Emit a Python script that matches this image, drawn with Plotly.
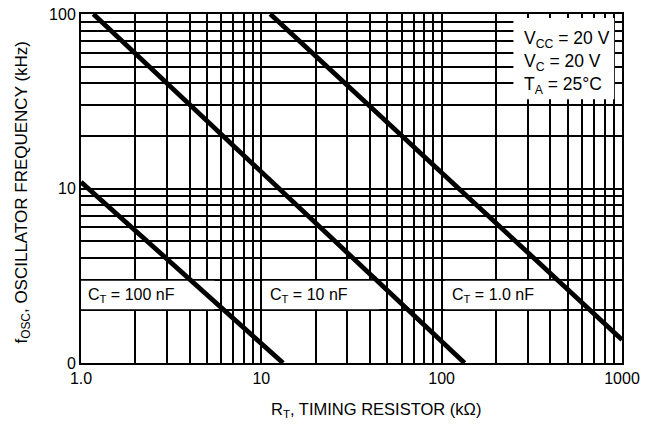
import math
import plotly.graph_objects as go

# ---- data ----
curve_labels = ["C<sub>T</sub> = 100 nF", "C<sub>T</sub> = 10 nF", "C<sub>T</sub> = 1.0 nF"]
rt_100nF = [1.0, 13.2]
f_100nF = [10.9, 1.0]
rt_10nF = [1.17, 134]
f_10nF = [100, 1.0]
rt_1nF = [11.2, 1000]
f_1nF = [100, 1.36]

x_tick_vals = [1, 2, 3, 4, 5, 6, 7, 8, 9, 10, 20, 30, 40, 50, 60, 70, 80, 90,
               100, 200, 300, 400, 500, 600, 700, 800, 900, 1000]
x_tick_text = ["1.0"] + [""] * 8 + ["10"] + [""] * 8 + ["100"] + [""] * 8 + ["1000"]
y_tick_vals = [1, 2, 3, 4, 5, 6, 7, 8, 9, 10, 20, 30, 40, 50, 60, 70, 80, 90, 100]
y_tick_text = ["0"] + [""] * 8 + ["10"] + [""] * 8 + ["100"]

cond_lines = ["V<sub>CC</sub> = 20 V", "V<sub>C</sub> = 20 V", "T<sub>A</sub> = 25°C"]

# label box extents (x range in kOhm, y range in kHz)
label_boxes_x = [(1.0, 5.5), (10.15, 45), (104, 470)]
label_box_y = (2.03, 2.96)
cond_box_x = (250, 905)
cond_box_y = (32.5, 95)

FONT = "Liberation Sans, Arial, Helvetica, sans-serif"

fig = go.Figure()


def white_box(xr, yr):
    fig.add_trace(go.Scatter(x=[xr[0], xr[1], xr[1], xr[0], xr[0]],
                             y=[yr[0], yr[0], yr[1], yr[1], yr[0]],
                             mode="lines", fill="toself", fillcolor="white",
                             line=dict(width=0, color="white"),
                             showlegend=False, hoverinfo="skip"))


for bx in label_boxes_x:
    white_box(bx, label_box_y)
white_box(cond_box_x, cond_box_y)

for xs, ys in [(rt_100nF, f_100nF), (rt_10nF, f_10nF), (rt_1nF, f_1nF)]:
    fig.add_trace(go.Scatter(x=xs, y=ys, mode="lines",
                             line=dict(color="black", width=4.8),
                             showlegend=False, hoverinfo="skip"))

L = math.log10
for (a, b), lab in zip(label_boxes_x, curve_labels):
    fig.add_annotation(x=L(a), y=L(2.45), xref="x", yref="y", text=lab,
                       showarrow=False, xanchor="left", xshift=5,
                       font=dict(family=FONT, size=16, color="black"))

for i, t in enumerate(cond_lines):
    fig.add_annotation(x=L(cond_box_x[0]), y=L(100), xref="x", yref="y", text=t,
                       showarrow=False, xanchor="left", yanchor="middle",
                       xshift=9, yshift=-25 - 23 * i,
                       font=dict(family=FONT, size=17.5, color="black"))

common = dict(type="log", showgrid=True, gridcolor="black", gridwidth=1.7,
              showline=True, linecolor="black", linewidth=2, mirror=True,
              ticks="", zeroline=False, automargin=False,
              tickfont=dict(family=FONT, size=16, color="black"))
fig.update_xaxes(range=[0, 3], tickvals=x_tick_vals, ticktext=x_tick_text, **common)
fig.update_yaxes(range=[0, 2], tickvals=y_tick_vals, ticktext=y_tick_text, **common)

fig.add_annotation(x=0.545, y=-0.135, xref="paper", yref="paper", yanchor="middle",
                   text="R<sub>T</sub>, TIMING RESISTOR (kΩ)", showarrow=False,
                   font=dict(family=FONT, size=16.5, color="black"))
fig.add_annotation(x=-0.108, y=0.49, xref="paper", yref="paper", xanchor="center",
                   text="f<sub>OSC</sub>, OSCILLATOR FREQUENCY (kHz)", showarrow=False,
                   textangle=-90, font=dict(family=FONT, size=17, color="black"))

fig.update_layout(width=645, height=429, margin=dict(l=81, r=23, t=14, b=66),
                  plot_bgcolor="white", paper_bgcolor="white",
                  font=dict(family=FONT, color="black"))
fig.write_html("out.html", config={"displayModeBar": False},
               post_script="document.body.style.margin='0px';document.body.style.overflow='hidden';")
